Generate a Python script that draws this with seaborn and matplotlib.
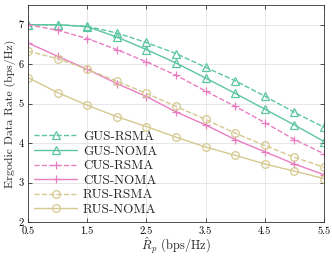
import numpy as np
import pandas as pd
import matplotlib
matplotlib.use("Agg")
import matplotlib.pyplot as plt
import seaborn as sns

# ── Data ─────────────────────────────────────────────────────────────────────
rate_p = [0.5, 1.0, 1.5, 2.0, 2.5, 3.0, 3.5, 4.0, 4.5, 5.0, 5.5]

gus_rsma = [7.00, 7.00, 6.96, 6.79, 6.55, 6.27, 5.92, 5.58, 5.19, 4.78, 4.40]
gus_noma = [7.00, 7.00, 6.95, 6.69, 6.37, 6.03, 5.65, 5.26, 4.86, 4.46, 4.04]
cus_rsma = [7.00, 6.86, 6.65, 6.37, 6.06, 5.72, 5.32, 4.93, 4.52, 4.09, 3.73]
cus_noma = [6.54, 6.20, 5.87, 5.51, 5.18, 4.79, 4.46, 4.09, 3.78, 3.47, 3.20]
rus_rsma = [6.33, 6.14, 5.87, 5.57, 5.26, 4.93, 4.60, 4.25, 3.94, 3.64, 3.39]
rus_noma = [5.66, 5.28, 4.96, 4.67, 4.42, 4.15, 3.90, 3.69, 3.47, 3.29, 3.10]

series_names = ["GUS-RSMA", "GUS-NOMA", "CUS-RSMA", "CUS-NOMA", "RUS-RSMA", "RUS-NOMA"]
series_vals = [gus_rsma, gus_noma, cus_rsma, cus_noma, rus_rsma, rus_noma]

x_ticks = [0.5, 1.5, 2.5, 3.5, 4.5, 5.5]
y_ticks = [2, 3, 4, 5, 6, 7]

# ── Style ────────────────────────────────────────────────────────────────────
GREEN = "#5cc6a0"
PINK = "#ea7dc2"
TAN = "#d5c98f"
styles = {
    "GUS-RSMA": dict(color=GREEN, ls="--", marker="^"),
    "GUS-NOMA": dict(color=GREEN, ls="-", marker="^"),
    "CUS-RSMA": dict(color=PINK, ls="--", marker="+"),
    "CUS-NOMA": dict(color=PINK, ls="-", marker="+"),
    "RUS-RSMA": dict(color=TAN, ls="--", marker="o"),
    "RUS-NOMA": dict(color=TAN, ls="-", marker="o"),
}

sns.set_theme(style="whitegrid")
plt.rcParams["font.family"] = ["serif"]
plt.rcParams["font.serif"] = ["cmr10", "DejaVu Serif"]
plt.rcParams["mathtext.fontset"] = "cm"
plt.rcParams["axes.formatter.use_mathtext"] = True

df = pd.DataFrame({
    "rate": np.tile(rate_p, len(series_names)),
    "value": np.concatenate(series_vals),
    "scheme": np.repeat(series_names, len(rate_p)),
})

fig = plt.figure(figsize=(3.32, 2.58), dpi=100)
ax = fig.add_axes([28 / 332, 36 / 258, 296 / 332, 217 / 258])

for name in series_names:
    st = styles[name]
    sub = df[df["scheme"] == name]
    sns.lineplot(data=sub, x="rate", y="value", ax=ax, color=st["color"],
                 linestyle=st["ls"], marker=st["marker"], markersize=5.5,
                 markerfacecolor="none", markeredgecolor=st["color"],
                 markeredgewidth=0.9, linewidth=1.0, label=name)

ax.set_xlim(0.5, 5.5)
ax.set_ylim(2, 7.5)
ax.set_xticks(x_ticks)
ax.set_xticklabels([f"{t}" for t in x_ticks])
ax.set_yticks(y_ticks)
ax.set_yticklabels([f"{t}" for t in y_ticks])
ax.tick_params(direction="in", length=3, width=0.6, labelsize=7.5, pad=3,
               top=True, right=True, bottom=True, left=True, colors="#333333")
ax.tick_params(labelcolor="black")
ax.set_xlabel(r"$\hat{R}_p$ (bps/Hz)", fontsize=9, labelpad=0)
ax.set_ylabel("Ergodic Data Rate (bps/Hz)", fontsize=8.5, labelpad=2)
ax.grid(True, color="#e3e3e3", linewidth=0.6)
ax.set_facecolor("white")
for sp in ax.spines.values():
    sp.set_color("#333333")
    sp.set_linewidth(0.6)

ax.legend(loc="lower left", frameon=False, fontsize=9.5, handlelength=3.3,
          labelspacing=0.18, borderaxespad=0.25, handletextpad=0.4,
          borderpad=0.2)

fig.savefig("out.png", dpi=100, facecolor="white")
